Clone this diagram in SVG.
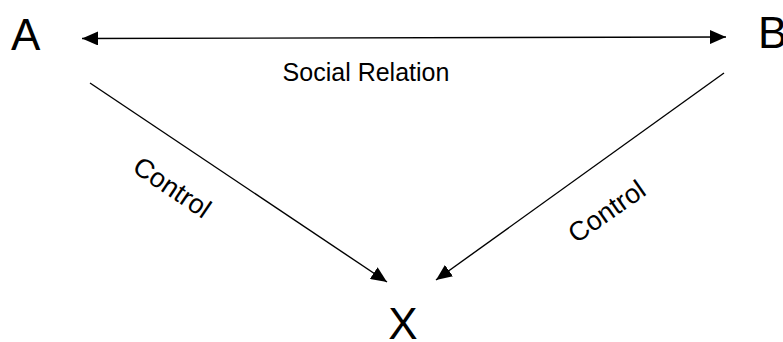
<svg xmlns="http://www.w3.org/2000/svg" width="783" height="342" viewBox="0 0 783 342">
<style>
.node{font-family:"Liberation Sans",Arial,sans-serif;font-size:44px;fill:#000}
.lbl{font-family:"Liberation Sans",Arial,sans-serif;font-size:25px;fill:#000}
.ctl{font-size:27px}
.conn{fill:none;stroke:#000;stroke-width:1.4}
</style>
<defs>
<marker id="ah" markerUnits="userSpaceOnUse" markerWidth="16" markerHeight="14" viewBox="0 0 16 14" refX="16" refY="7" orient="auto-start-reverse">
<path d="M0,0 L16,7 L0,14 z" fill="#000"/>
</marker>
</defs>
<rect width="783" height="342" fill="#fff"/>
<g id="connectors">
<line class="conn" x1="82" y1="38.5" x2="726" y2="37" marker-start="url(#ah)" marker-end="url(#ah)"/>
<line class="conn" x1="90" y1="83" x2="387" y2="282" marker-end="url(#ah)"/>
<line class="conn" x1="724" y1="73" x2="436" y2="280" stroke="#444" marker-end="url(#ah)"/>
<text class="lbl" x="366" y="81" text-anchor="middle">Social Relation</text>
<text class="lbl ctl" x="167" y="195" text-anchor="middle" transform="rotate(34 167 195)">Control</text>
<text class="lbl ctl" x="612" y="219" text-anchor="middle" transform="rotate(-35 612 219)">Control</text>
</g>
<g id="node-A"><text class="node" x="11" y="50">A</text></g>
<g id="node-B"><text class="node" x="758" y="48">B</text></g>
<g id="node-X"><text class="node" x="403" y="339" text-anchor="middle">X</text></g>
</svg>
